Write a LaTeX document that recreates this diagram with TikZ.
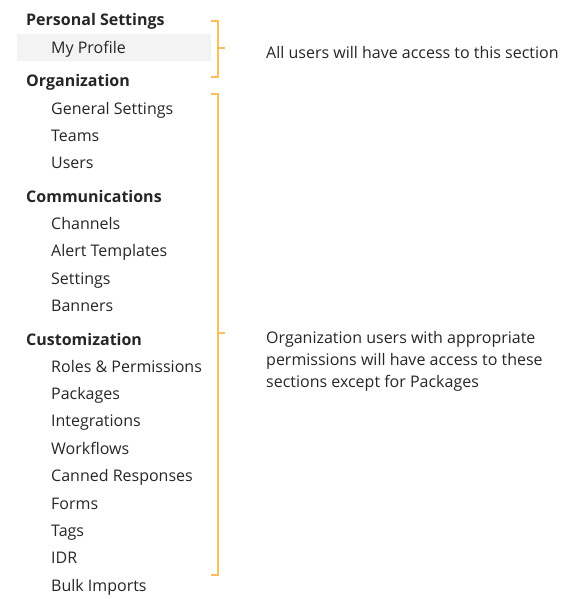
\documentclass[tikz,border=0pt]{standalone}
\usepackage{fontspec}
\setmainfont{Open Sans}
\definecolor{brk}{HTML}{FFBE5C}
\definecolor{hl}{HTML}{F3F3F3}
\definecolor{txt}{HTML}{262626}
\begin{document}
\begin{tikzpicture}[x=1pt,y=-1pt,
  head/.style={anchor=base west,inner sep=0pt,font=\fontsize{16}{22}\selectfont\bfseries,text=txt},
  item/.style={anchor=base west,inner sep=0pt,font=\fontsize{16}{22}\selectfont,text=txt},
  note/.style={anchor=base west,inner sep=0pt,font=\fontsize{16}{22}\selectfont,text=txt,align=left},
  bracket/.style={draw=brk,line width=1.4pt}]
\useasboundingbox (0,0) rectangle (584,599);
\fill[hl] (17,34) rectangle (211,61);
\node[head] (ps) at (26,26) {Personal Settings};
\node[item] (mp) at (51,54) {My Profile};
\node[head] (org) at (26,87) {Organization};
\node[item] (gs) at (51,114) {General Settings};
\node[item] (tm) at (51,141) {Teams};
\node[item] (us) at (51,168) {Users};
\node[head] (com) at (26,202) {Communications};
\node[item] (ch) at (51,229) {Channels};
\node[item] (at) at (51,256) {Alert Templates};
\node[item] (st) at (51,284) {Settings};
\node[item] (bn) at (51,311) {Banners};
\node[head] (cus) at (26,345) {Customization};
\node[item] (rp) at (51,372) {Roles \& Permissions};
\node[item] (pk) at (51,399) {Packages};
\node[item] (ig) at (51,426) {Integrations};
\node[item] (wf) at (51,454) {Workflows};
\node[item] (cr) at (51,481) {Canned Responses};
\node[item] (fm) at (51,509) {Forms};
\node[item] (tg) at (51,536) {Tags};
\node[item] (idr) at (51,563) {IDR};
\node[item] (bi) at (51,591) {Bulk Imports};
\node[note] (n1) at (266,59) {All users will have access to this section};
\node[note] (n2) at (266,387) {Organization users with appropriate\\permissions will have access to these\\sections except for Packages};
\draw[bracket] (211,21) -- (218,21) -- (218,77) -- (211,77);
\draw[bracket] (218,48) -- (225,48);
\draw[bracket] (211,94) -- (218,94) -- (218,575) -- (211,575);
\draw[bracket] (218,333) -- (225,333);
\end{tikzpicture}
\end{document}
